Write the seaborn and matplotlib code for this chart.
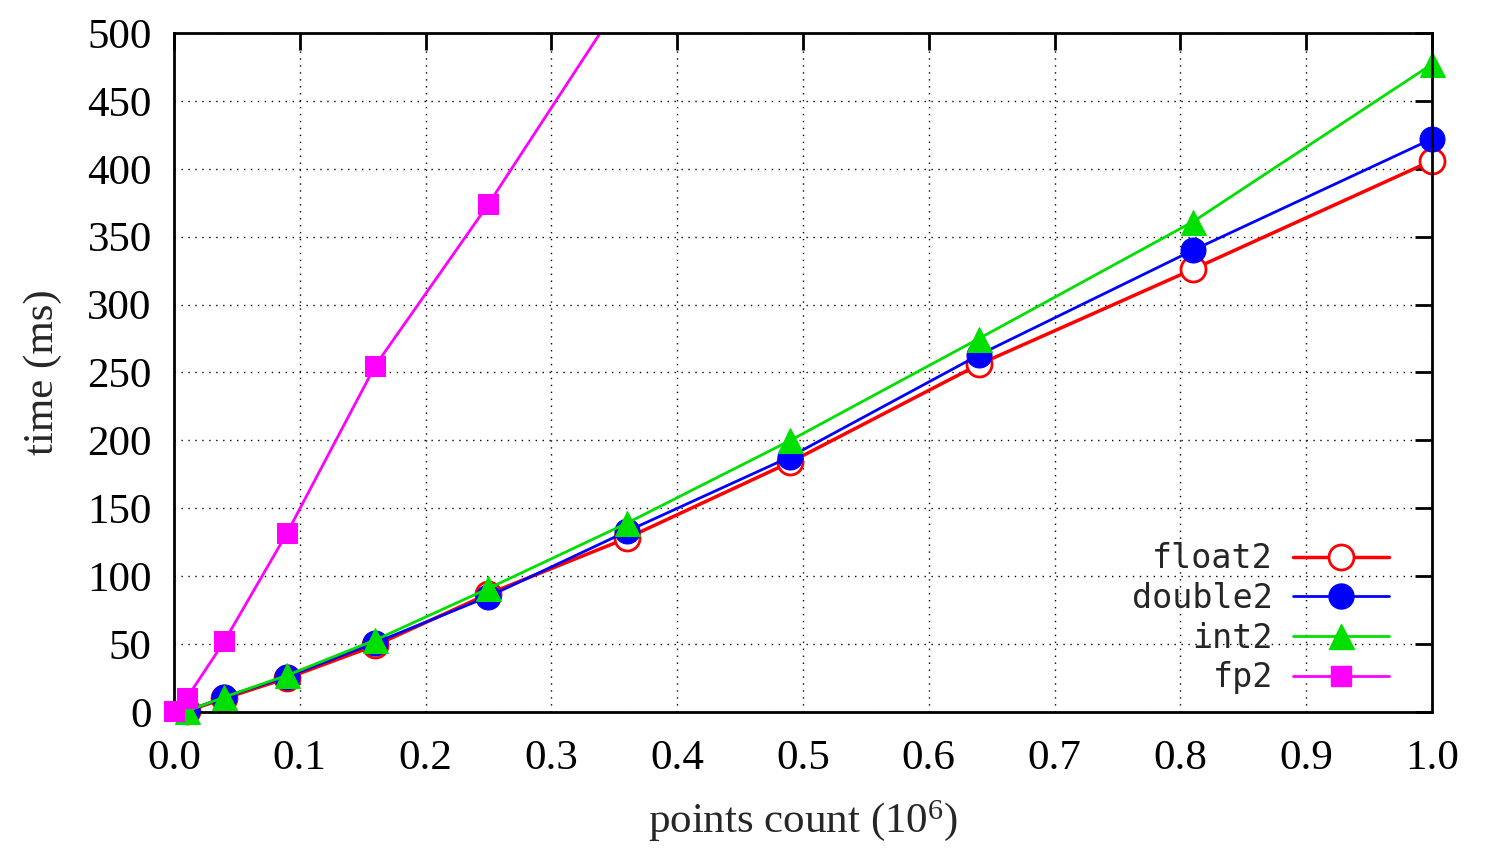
import matplotlib
matplotlib.use("Agg")
import matplotlib.pyplot as plt
import seaborn as sns
import pandas as pd
from matplotlib.lines import Line2D

# points count in millions
x_pts = [0.01, 0.04, 0.09, 0.16, 0.25, 0.36, 0.49, 0.64, 0.81, 1.0]
float2 = [0.5, 10, 25, 49, 87, 128, 184, 256, 326, 406]
double2 = [0.5, 11, 26, 51, 85, 133, 188, 263, 340, 422]
int2 = [0.5, 11, 27, 53, 91, 139, 200, 275, 361, 477]
fp2_x = [0.0, 0.01, 0.04, 0.09, 0.16, 0.25, 0.36]
fp2 = [1, 10, 52, 132, 255, 374, 530]

series = {
    "float2": (x_pts, float2, "#ff0000", "o", dict(mfc="white", mew=2, ms=18), 2.5),
    "double2": (x_pts, double2, "#0000ff", "o", dict(ms=18), 2),
    "int2": (x_pts, int2, "#00e000", "^", dict(ms=18), 2),
    "fp2": (fp2_x, fp2, "#ff00ff", "s", dict(ms=14), 2),
}

sns.set_style("white")
plt.rcParams["font.family"] = ["Liberation Serif", "DejaVu Serif"]

fig = plt.figure(figsize=(14.92, 8.67), dpi=100)
ax = fig.add_axes([0.1166, 0.1788, 0.9598 - 0.1166, 0.962 - 0.1788])

YMAX = 500
handles = []
for i, (name, (xs, ys, col, mk, mkw, lw)) in enumerate(series.items()):
    df = pd.DataFrame({"x": xs, "y": ys})
    # line clipped to the axes, markers drawn unclipped (only those inside the range)
    sns.lineplot(data=df, x="x", y="y", ax=ax, color=col, lw=lw, zorder=2 + i)
    inside = df[df["y"] <= YMAX]
    sns.lineplot(data=inside, x="x", y="y", ax=ax, color=col, marker=mk, mec=col,
                 linestyle="", clip_on=False, zorder=2.5 + i, **mkw)
    handles.append(Line2D([], [], color=col, marker=mk, mec=col, lw=lw, **mkw))

ax.set_xlim(0, 1.0)
ax.set_ylim(0, YMAX)
ax.set_xticks([i / 10 for i in range(11)])
ax.set_xticklabels([f"{i / 10:.1f}" for i in range(11)])
ax.set_yticks(range(0, 501, 50))

ax.grid(True, color="black", linestyle=(0, (1, 4)), linewidth=1)
for side, s in ax.spines.items():
    s.set_linewidth(2)
    s.set_color("black")
    if side in ("right", "top"):
        s.set_zorder(10)
ax.tick_params(direction="in", length=12, width=2, labelsize=31, top=True,
               right=True, colors="black")
ax.tick_params(axis="x", pad=20)
ax.tick_params(axis="y", pad=16)

ax.set_xlabel("points count ($\\mathregular{10^6}$)", fontsize=31, labelpad=14)
ax.set_ylabel("time (ms)", fontsize=31, labelpad=18)

leg = ax.legend(handles, list(series.keys()), loc="lower right", frameon=False,
                markerfirst=False, handlelength=2.9, labelspacing=0.2,
                handletextpad=0.6,
                prop={"family": "DejaVu Sans Mono", "size": 24},
                bbox_to_anchor=(0.99, -0.018))

fig.savefig("out.png", dpi=100)
